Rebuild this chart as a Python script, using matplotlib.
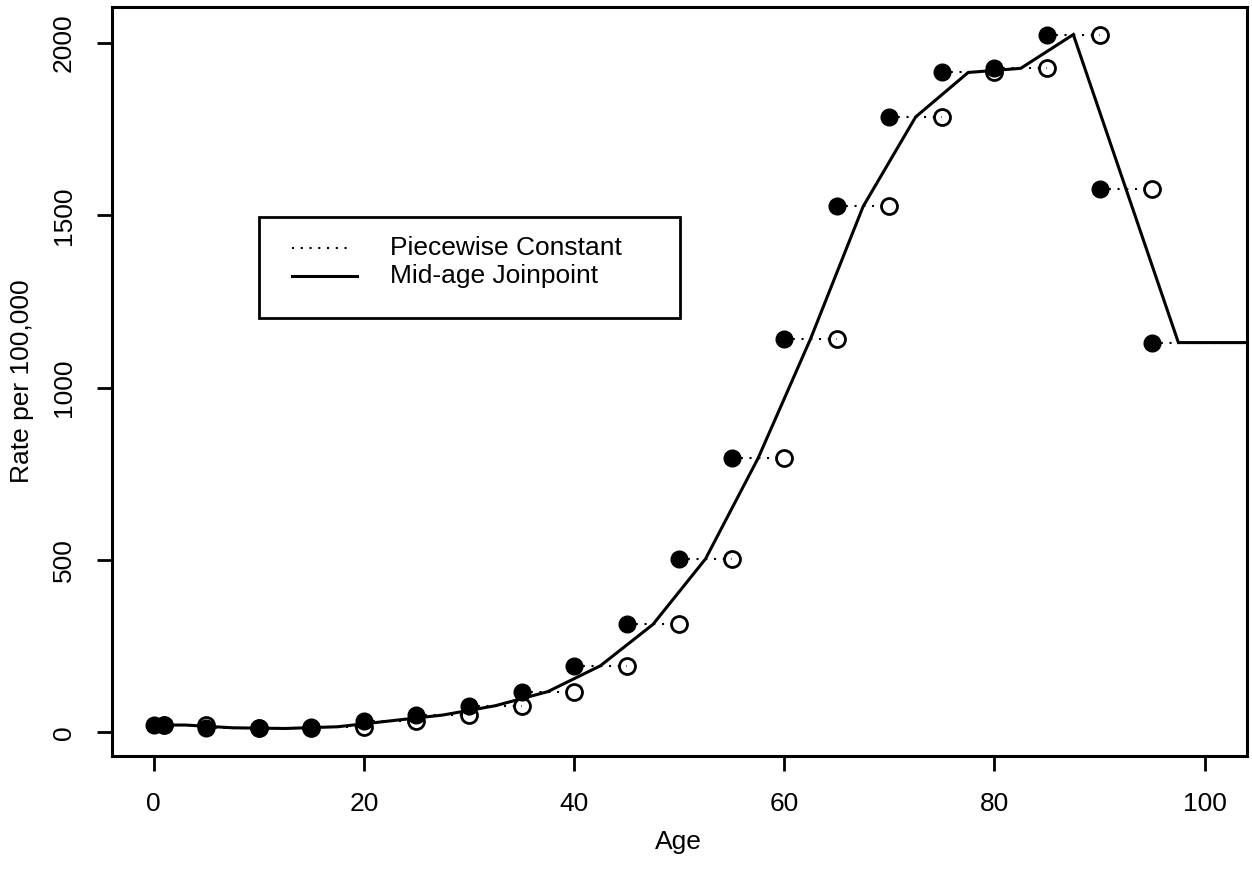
import matplotlib
matplotlib.use("Agg")
import matplotlib.pyplot as plt
from matplotlib.patches import Rectangle
from matplotlib.lines import Line2D

plt.rcParams['font.family'] = ['Liberation Sans', 'DejaVu Sans']

# Data: age-group start ages and rates per 100,000
age_start = [0, 1, 5, 10, 15, 20, 25, 30, 35, 40, 45, 50, 55, 60, 65, 70, 75, 80, 85, 90, 95]
age_end = [1, 5, 10, 15, 20, 25, 30, 35, 40, 45, 50, 55, 60, 65, 70, 75, 80, 85, 90, 95, 100]
rates = [21, 21, 13, 11, 16, 33, 50, 77, 118, 193, 313, 503, 795, 1142, 1526, 1786, 1915, 1927, 2025, 1578, 1131]

x_ticks = [0, 20, 40, 60, 80, 100]
y_ticks = [0, 500, 1000, 1500, 2000]
legend_labels = ["Piecewise Constant", "Mid-age Joinpoint"]

FS = 19
W, H = 1252, 873
fig = plt.figure(figsize=(W / 100, H / 100), dpi=100)
ax = fig.add_axes([111.7 / W, 1 - 755.7 / H, (1246.7 - 111.7) / W, (755.7 - 7) / H])

XL = (-4, 104)
YL = (-68, 2105)

dot_style = dict(color='black', linewidth=1.5, linestyle=(0, (1, 3.2)), dash_capstyle='butt')

# piecewise constant segments (last one open-ended to the right edge)
for i, (s, e, r) in enumerate(zip(age_start, age_end, rates)):
    end = e if i < len(rates) - 1 else XL[1] + 5
    ax.plot([s, end], [r, r], **dot_style, zorder=2)

# open circles at the end of each interval (except last)
ax.plot(age_end[:-1], rates[:-1], linestyle='none', marker='o', markersize=11.5,
        markerfacecolor='none', markeredgecolor='black', markeredgewidth=2.0, zorder=3)
# filled circles at the start of each interval
ax.plot(age_start, rates, linestyle='none', marker='o', markersize=12,
        markerfacecolor='black', markeredgecolor='black', markeredgewidth=1.0, zorder=4)

# mid-age joinpoint line
mids = [(s + e) / 2 for s, e in zip(age_start, age_end)]
line_x = mids + [XL[1] + 5]
line_y = rates + [rates[-1]]
ax.plot(line_x, line_y, color='black', linewidth=2.2, solid_joinstyle='miter', zorder=5)

ax.set_xlim(*XL)
ax.set_ylim(*YL)
ax.set_xticks(x_ticks)
ax.set_yticks(y_ticks)
ax.set_xticklabels([str(v) for v in x_ticks], fontsize=FS)
ax.set_yticklabels([str(v) for v in y_ticks], fontsize=FS, rotation=90, va='center')
ax.tick_params(direction='out', length=11, width=2.0, pad=15)
for sp in ax.spines.values():
    sp.set_linewidth(2.2)

fig.text(678 / W, 1 - 842 / H, "Age", fontsize=FS, ha='center', va='center')
fig.text(22 / W, 1 - 381 / H, "Rate per 100,000", fontsize=FS, ha='center', va='center', rotation=90)

# legend drawn manually in figure pixel fractions
def fx(px):
    return px / W

def fy(py):
    return 1 - py / H

fig.patches.append(Rectangle((fx(259.3), fy(318.3)), fx(680) - fx(259.3), fy(216.7) - fy(318.3),
                             transform=fig.transFigure, facecolor='white', edgecolor='black',
                             linewidth=2.0, zorder=10))
fig.lines.append(Line2D([fx(291.7), fx(352)], [fy(248), fy(248)], transform=fig.transFigure,
                        zorder=11, **dot_style))
fig.lines.append(Line2D([fx(291.7), fx(357)], [fy(275.5), fy(275.5)], transform=fig.transFigure,
                        color='black', linewidth=2.2, zorder=11))
fig.text(fx(390), fy(248), legend_labels[0], fontsize=FS, ha='left', va='center', zorder=12)
fig.text(fx(390), fy(275.5), legend_labels[1], fontsize=FS, ha='left', va='center', zorder=12)

fig.savefig("out.png", dpi=100)
